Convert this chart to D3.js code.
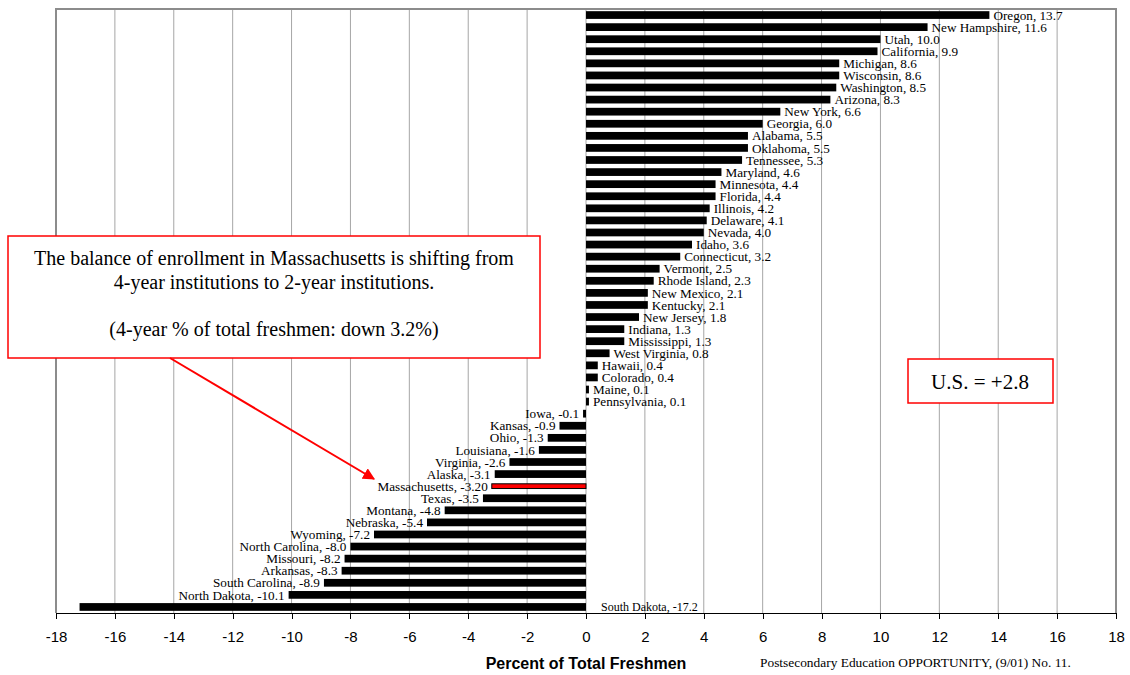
<!DOCTYPE html>
<html lang="en">
<head>
<meta charset="UTF-8">
<title>Change in 4-year share of total freshmen by state</title>
<style>
  body { margin: 0; background: #fff; }
  .grid line { stroke: #a6a6a6; stroke-width: 1; }
  .frame { fill: none; stroke: #8c8c8c; stroke-width: 2; }
  .axis path, .axis line { stroke: #000; shape-rendering: crispEdges; }
  .axis text { font: 15px "Liberation Sans", Arial, sans-serif; fill: #000; }
  .label { font: 13.2px "Liberation Serif", "Times New Roman", serif; fill: #000; }
  .note { font: 20px "Liberation Serif", "Times New Roman", serif; fill: #000; }
</style>
</head>
<body>
<svg width="1130" height="675"></svg>
<script src="https://d3js.org/d3.v7.min.js"></script>
<script>
var states = ["Oregon", "New Hampshire", "Utah", "California", "Michigan", "Wisconsin", "Washington", "Arizona",
  "New York", "Georgia", "Alabama", "Oklahoma", "Tennessee", "Maryland", "Minnesota", "Florida", "Illinois",
  "Delaware", "Nevada", "Idaho", "Connecticut", "Vermont", "Rhode Island", "New Mexico", "Kentucky",
  "New Jersey", "Indiana", "Mississippi", "West Virginia", "Hawaii", "Colorado", "Maine", "Pennsylvania",
  "Iowa", "Kansas", "Ohio", "Louisiana", "Virginia", "Alaska", "Massachusetts", "Texas", "Montana",
  "Nebraska", "Wyoming", "North Carolina", "Missouri", "Arkansas", "South Carolina", "North Dakota", "South Dakota"];
var values = [13.7, 11.6, 10.0, 9.9, 8.6, 8.6, 8.5, 8.3,
  6.6, 6.0, 5.5, 5.5, 5.3, 4.6, 4.4, 4.4, 4.2,
  4.1, 4.0, 3.6, 3.2, 2.5, 2.3, 2.1, 2.1,
  1.8, 1.3, 1.3, 0.8, 0.4, 0.4, 0.1, 0.1,
  -0.1, -0.9, -1.3, -1.6, -2.6, -3.1, -3.2, -3.5, -4.8,
  -5.4, -7.2, -8.0, -8.2, -8.3, -8.9, -10.1, -17.2];
var xTicks = [-18, -16, -14, -12, -10, -8, -6, -4, -2, 0, 2, 4, 6, 8, 10, 12, 14, 16, 18];
var highlight = "Massachusetts";
var noteLines = ["The balance of enrollment in Massachusetts is shifting from",
  "4-year institutions to 2-year institutions.",
  "",
  "(4-year % of total freshmen: down 3.2%)"];
var usText = "U.S. = +2.8";
var xTitle = "Percent of Total Freshmen";
var source = "Postsecondary Education OPPORTUNITY, (9/01) No. 11.";

var data = states.map(function(s, i) { return {name: s, value: values[i]}; });

var svg = d3.select("svg"),
    margin = {top: 9, right: 14, bottom: 62, left: 56},
    width = +svg.attr("width") - margin.left - margin.right,
    height = +svg.attr("height") - margin.top - margin.bottom;

var x = d3.scaleLinear().domain([-18, 18]).range([0, width]);
var y = d3.scaleBand().domain(states).range([0, height]).paddingInner(0.36).paddingOuter(0.18);

var g = svg.append("g")
    .attr("transform", "translate(" + margin.left + "," + margin.top + ")");

// gridlines
g.append("g").attr("class", "grid")
  .selectAll("line").data(xTicks).enter().append("line")
    .attr("x1", function(d) { return x(d); })
    .attr("x2", function(d) { return x(d); })
    .attr("y1", 0).attr("y2", height);

// frame (top, left, right)
g.append("path").attr("class", "frame")
  .attr("d", "M" + x(-18) + "," + height + "V0H" + x(18) + "V" + height);

// bars
g.selectAll(".bar")
  .data(data)
  .enter().append("rect")
    .attr("class", "bar")
    .attr("x", function(d) { return x(Math.min(0, d.value)); })
    .attr("y", function(d) { return d.name === highlight ? y(d.name) + 1.5 : y(d.name); })
    .attr("width", function(d) { return Math.abs(x(d.value) - x(0)); })
    .attr("height", function(d) { return d.name === highlight ? y.bandwidth() - 3 : y.bandwidth(); })
    .attr("fill", function(d) { return d.name === highlight ? "#ff0000" : "#000"; })
    .attr("stroke", function(d) { return d.name === highlight ? "#000" : "none"; })
    .attr("stroke-width", 1);

// labels
g.selectAll(".label")
  .data(data)
  .enter().append("text")
    .attr("class", "label")
    .attr("y", function(d) { return y(d.name) + y.bandwidth() / 2; })
    .attr("dy", "0.35em")
    .attr("x", function(d) {
      if (d.name === "South Dakota") return x(0) + 15;
      return d.value >= 0 ? x(d.value) + 4 : x(d.value) - 4;
    })
    .attr("text-anchor", function(d) {
      return (d.value >= 0 || d.name === "South Dakota") ? "start" : "end";
    })
    .style("font-size", function(d) { return d.name === "South Dakota" ? "12px" : null; })
    .text(function(d) {
      var v = d.name === highlight ? d.value.toFixed(2) : d.value.toFixed(1);
      return d.name + ", " + v;
    });

// axis
g.append("g")
  .attr("class", "x axis")
  .attr("transform", "translate(0," + height + ")")
  .call(d3.axisBottom(x).tickValues(xTicks).tickFormat(function(d) { return String(d); })
    .tickSize(6).tickSizeOuter(0).tickPadding(12))
  .call(function(a) { a.select(".domain").attr("stroke-width", 1.5); });

g.append("text")
  .attr("x", x(0))
  .attr("y", height + 56)
  .attr("text-anchor", "middle")
  .style("font", "bold 16px 'Liberation Sans', Arial, sans-serif")
  .text(xTitle);

svg.append("text")
  .attr("x", 760)
  .attr("y", 667)
  .style("font", "13.4px 'Liberation Serif', 'Times New Roman', serif")
  .text(source);

// annotation box
var box = svg.append("g");
box.append("rect")
  .attr("x", 8).attr("y", 236).attr("width", 532).attr("height", 122)
  .attr("fill", "#fff").attr("stroke", "#ff0000").attr("stroke-width", 1.5);
box.selectAll("text").data(noteLines).enter().append("text")
  .attr("class", "note")
  .attr("x", 274)
  .attr("y", function(d, i) { return 265 + i * 23.5; })
  .attr("text-anchor", "middle")
  .text(function(d) { return d; });

// arrow to the Massachusetts label
svg.append("defs").append("marker")
  .attr("id", "arrow").attr("viewBox", "0 0 10 10")
  .attr("refX", 9).attr("refY", 5)
  .attr("markerWidth", 6).attr("markerHeight", 6)
  .attr("orient", "auto")
  .append("path").attr("d", "M0,0L10,5L0,10z").attr("fill", "#ff0000");

svg.append("line")
  .attr("x1", 170).attr("y1", 358)
  .attr("x2", 374).attr("y2", 479)
  .attr("stroke", "#ff0000").attr("stroke-width", 2)
  .attr("marker-end", "url(#arrow)");

// U.S. box
svg.append("rect")
  .attr("x", 908).attr("y", 359).attr("width", 145).attr("height", 44)
  .attr("fill", "#fff").attr("stroke", "#ff0000").attr("stroke-width", 1.5);
svg.append("text")
  .attr("x", 980).attr("y", 389)
  .attr("text-anchor", "middle")
  .style("font", "21px 'Liberation Serif', 'Times New Roman', serif")
  .text(usText);
</script>
</body>
</html>
